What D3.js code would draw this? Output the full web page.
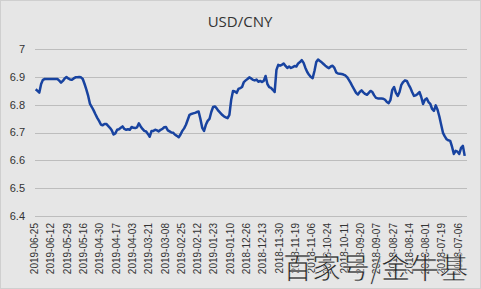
<!DOCTYPE html>
<html lang="en">

<head>
	<meta charset="utf-8">
	<script src="https://d3js.org/d3.v7.min.js"></script>
	<title>USD/CNY</title>
	<style>
		body { margin: 0; background: #fff; }
	</style>
</head>

<body>
	<script type="text/javascript">
		// Chart title
		var title = "USD/CNY";

		// Category labels shown on the axis (one every 9 trading days, newest first)
		var tickLabels = ["2019-06-25", "2019-06-12", "2019-05-29", "2019-05-16", "2019-04-30",
			"2019-04-17", "2019-04-03", "2019-03-21", "2019-03-08", "2019-02-25", "2019-02-12",
			"2019-01-23", "2019-01-10", "2018-12-26", "2018-12-13", "2018-11-30", "2018-11-19",
			"2018-11-06", "2018-10-24", "2018-10-11", "2018-09-20", "2018-09-07", "2018-08-27",
			"2018-08-14", "2018-08-01", "2018-07-19", "2018-07-06"];
		var tickStep = 9;

		// Y axis ticks
		var yTicks = [6.4, 6.5, 6.6, 6.7, 6.8, 6.9, 7];

		// Exchange rate, one value per trading day (newest first)
		var rates = [
			6.856, 6.850, 6.844, 6.875, 6.890, 6.893, 6.893, 6.893, 6.893, 6.893,
			6.893, 6.893, 6.893, 6.887, 6.880, 6.886, 6.895, 6.900, 6.895, 6.891,
			6.890, 6.895, 6.899, 6.899, 6.900, 6.899, 6.893, 6.875, 6.855, 6.832,
			6.803, 6.792, 6.780, 6.766, 6.753, 6.742, 6.729, 6.726, 6.731, 6.731,
			6.724, 6.717, 6.708, 6.693, 6.697, 6.710, 6.712, 6.717, 6.722, 6.713,
			6.710, 6.712, 6.710, 6.720, 6.717, 6.716, 6.719, 6.733, 6.722, 6.713,
			6.706, 6.704, 6.695, 6.685, 6.706, 6.706, 6.710, 6.708, 6.704, 6.710,
			6.713, 6.719, 6.720, 6.708, 6.704, 6.700, 6.699, 6.692, 6.688, 6.683,
			6.693, 6.706, 6.715, 6.728, 6.746, 6.764, 6.767, 6.769, 6.771, 6.774,
			6.776, 6.749, 6.717, 6.706, 6.728, 6.742, 6.749, 6.774, 6.792, 6.794,
			6.787, 6.778, 6.771, 6.764, 6.758, 6.755, 6.752, 6.764, 6.818, 6.850,
			6.848, 6.843, 6.857, 6.860, 6.864, 6.882, 6.888, 6.893, 6.899, 6.895,
			6.890, 6.888, 6.891, 6.883, 6.886, 6.882, 6.886, 6.904, 6.875, 6.864,
			6.861, 6.854, 6.846, 6.926, 6.944, 6.941, 6.944, 6.949, 6.940, 6.933,
			6.938, 6.933, 6.936, 6.940, 6.938, 6.949, 6.954, 6.961, 6.951, 6.933,
			6.918, 6.908, 6.900, 6.896, 6.922, 6.954, 6.963, 6.958, 6.953, 6.947,
			6.941, 6.936, 6.932, 6.938, 6.941, 6.933, 6.917, 6.913, 6.912, 6.911,
			6.909, 6.906, 6.900, 6.890, 6.879, 6.866, 6.855, 6.843, 6.837, 6.846,
			6.852, 6.845, 6.839, 6.836, 6.843, 6.850, 6.846, 6.834, 6.825, 6.823,
			6.823, 6.823, 6.822, 6.818, 6.810, 6.806, 6.818, 6.854, 6.864, 6.843,
			6.832, 6.846, 6.872, 6.882, 6.888, 6.886, 6.873, 6.861, 6.845, 6.832,
			6.834, 6.839, 6.846, 6.828, 6.803, 6.818, 6.823, 6.810, 6.803, 6.785,
			6.778, 6.798, 6.782, 6.758, 6.728, 6.699, 6.686, 6.676, 6.672, 6.670,
			6.649, 6.623, 6.634, 6.631, 6.623, 6.645, 6.652, 6.616
		];

		// Watermark text on the picture
		var watermark = "百家号/金牛基";

		var width = 481;
		var height = 289;

		var svg = d3.select("body")
			.append("svg")
			.attr("width", width)
			.attr("height", height)
			.style("display", "block");

		// chart background + frame
		svg.append("rect")
			.attr("x", 0.5)
			.attr("y", 0.5)
			.attr("width", width - 1)
			.attr("height", height - 1)
			.style("fill", "#e6e6e6")
			.style("stroke", "#cfcfcf");

		var x = d3.scaleLinear()
			.domain([0, rates.length - 1])
			.range([35.7, 464.7]);

		var y = d3.scaleLinear()
			.domain([6.4, 7])
			.range([215.8, 49.3]);

		// title
		svg.append("text")
			.attr("x", 240)
			.attr("y", 27)
			.attr("text-anchor", "middle")
			.style("font-family", "'Open Sans', sans-serif")
			.style("font-size", "15px")
			.style("fill", "#333333")
			.text(title);

		// gridlines
		svg.selectAll("line.grid")
			.data(yTicks)
			.enter()
			.append("line")
			.attr("class", "grid")
			.attr("x1", 35)
			.attr("x2", 467)
			.attr("y1", function(d) { return Math.round(y(d)) + 0.5; })
			.attr("y2", function(d) { return Math.round(y(d)) + 0.5; })
			.style("stroke", "#bdbdbd")
			.style("stroke-width", 1);

		// y labels
		svg.selectAll("text.ylab")
			.data(yTicks)
			.enter()
			.append("text")
			.attr("class", "ylab")
			.attr("x", 25)
			.attr("y", function(d) { return y(d); })
			.attr("dy", "0.35em")
			.attr("text-anchor", "end")
			.style("font-family", "'Liberation Sans', Arial, sans-serif")
			.style("font-size", "11px")
			.style("fill", "#333333")
			.text(function(d) { return d3.format("")(d); });

		// x labels, rotated
		svg.selectAll("text.xlab")
			.data(tickLabels)
			.enter()
			.append("text")
			.attr("class", "xlab")
			.attr("transform", function(d, i) {
				return "translate(" + (x(i * tickStep) - 1) + ",223) rotate(-90)";
			})
			.attr("dy", "0.35em")
			.attr("text-anchor", "end")
			.style("font-family", "'Liberation Sans', Arial, sans-serif")
			.style("font-size", "10px")
			.style("fill", "#333333")
			.text(function(d) { return d; });

		// the rate line
		var line = d3.line()
			.x(function(d, i) { return x(i); })
			.y(function(d) { return y(d); });

		svg.append("path")
			.datum(rates)
			.attr("d", line)
			.style("fill", "none")
			.style("stroke", "#1843a0")
			.style("stroke-width", 2.5)
			.style("stroke-linejoin", "round");

		// watermark
		svg.append("text")
			.attr("x", 283)
			.attr("y", 279)
			.style("font-family", "'Noto Sans CJK SC', sans-serif")
			.style("font-size", "29px")
			.style("fill", "#2a2a2a")
			.style("stroke", "#f4f4f4")
			.style("stroke-width", 0.6)
			.text(watermark);
	</script>

</body>

</html>
